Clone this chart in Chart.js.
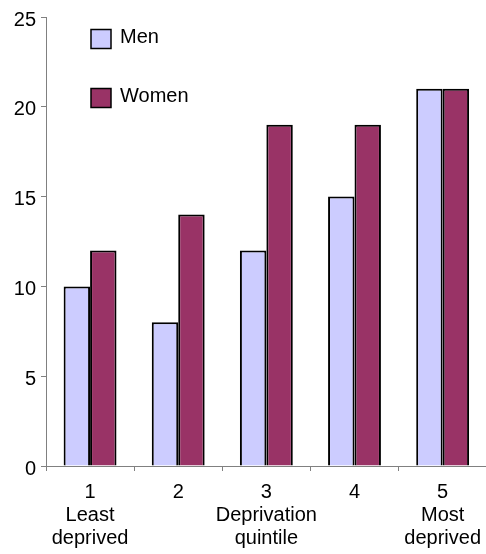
<!DOCTYPE html>
<html>
<head>
<meta charset="utf-8">
<script src="https://cdn.jsdelivr.net/npm/chart.js@4/dist/chart.umd.min.js"></script>
<style>
  html, body { margin: 0; padding: 0; background: #fff; overflow: hidden; }
  #wrap { position: relative; width: 491px; height: 554px; }
</style>
</head>
<body>
<div id="wrap"><canvas id="chart"></canvas></div>
<script>
// Deprivation quintiles, with the extra caption lines under each number
const categories = [
  ['1', 'Least', 'deprived'],
  ['2'],
  ['3', 'Deprivation', 'quintile'],
  ['4'],
  ['5', 'Most', 'deprived']
];
const menValues = [10, 8, 12, 15, 21];
const womenValues = [12, 14, 19, 19, 21];
const yTicks = [0, 5, 10, 15, 20, 25];

const FONT = 'Arial, "Liberation Sans", sans-serif';
const AXIS_GREY = '#808080';

// Legend drawn as a stacked list inside the plot area, top left
const stackedLegend = {
  id: 'stackedLegend',
  afterDraw(chart) {
    const ctx = chart.ctx;
    const area = chart.chartArea;
    const x0 = area.left + 45;
    let y0 = area.top + 12.5;
    ctx.save();
    chart.data.datasets.forEach((ds) => {
      ctx.fillStyle = ds.backgroundColor;
      ctx.fillRect(x0, y0, 20, 19);
      ctx.lineWidth = 1.5;
      ctx.strokeStyle = '#000';
      ctx.strokeRect(x0, y0, 20, 19);
      ctx.fillStyle = '#000';
      ctx.font = '20px ' + FONT;
      ctx.textBaseline = 'middle';
      ctx.textAlign = 'left';
      ctx.fillText(ds.label, x0 + 29, y0 + 8);
      y0 += 59;
    });
    ctx.restore();
  }
};

new Chart(document.getElementById('chart'), {
  type: 'bar',
  data: {
    labels: categories,
    datasets: [
      {
        label: 'Men',
        data: menValues,
        backgroundColor: '#CCCCFF',
        borderColor: '#000',
        borderWidth: 2,
        categoryPercentage: 0.6,
        barPercentage: 1.0
      },
      {
        label: 'Women',
        data: womenValues,
        backgroundColor: '#993366',
        borderColor: '#000',
        borderWidth: 2,
        categoryPercentage: 0.6,
        barPercentage: 1.0
      }
    ]
  },
  options: {
    responsive: true,
    maintainAspectRatio: false,
    animation: false,
    layout: { padding: { top: 14, right: 0, left: 0, bottom: 0 } },
    plugins: {
      legend: { display: false },
      tooltip: { enabled: false }
    },
    scales: {
      x: {
        grid: {
          display: true,
          drawOnChartArea: false,
          drawTicks: true,
          tickLength: 5,
          color: AXIS_GREY,
          offset: true
        },
        border: { display: true, color: AXIS_GREY, width: 1 },
        ticks: {
          color: '#000',
          font: { family: FONT, size: 20, lineHeight: 1.15 },
          padding: 10,
          maxRotation: 0,
          autoSkip: false
        },
        afterFit(scale) { scale.height = 88; }
      },
      y: {
        min: 0,
        max: 25,
        afterBuildTicks(scale) { scale.ticks = yTicks.map(v => ({ value: v })); },
        grid: {
          display: true,
          drawOnChartArea: false,
          drawTicks: true,
          tickLength: 5,
          color: AXIS_GREY
        },
        border: { display: true, color: AXIS_GREY, width: 1 },
        ticks: {
          color: '#000',
          font: { family: FONT, size: 20 },
          padding: 5,
          labelOffset: 3
        },
        afterFit(scale) { scale.width = 46; }
      }
    }
  },
  plugins: [stackedLegend]
});
</script>
</body>
</html>
